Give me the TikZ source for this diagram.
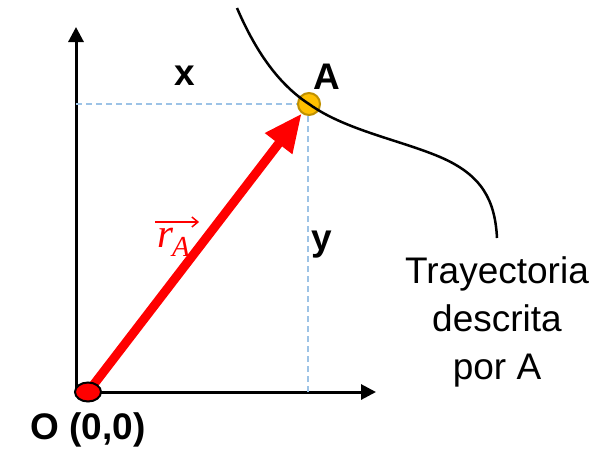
\documentclass[tikz,border=0pt]{standalone}
\usepackage{fontspec}
\setmainfont{Liberation Sans}
\newfontfamily\vecfont{Liberation Serif}
\usepackage{tikz}
\usetikzlibrary{arrows.meta,backgrounds,shapes.geometric}
\definecolor{vred}{HTML}{FF0000}
\definecolor{ptfill}{HTML}{FFC000}
\definecolor{ptdraw}{HTML}{BF9000}
\definecolor{guide}{HTML}{9DC3E6}
\tikzset{
  axis/.style  = {-{Triangle[length=15pt,width=15pt]}, line width=3pt, draw=black},
  vec/.style   = {-{Triangle[length=38pt,width=32pt]}, line width=9pt, draw=vred},
  proj/.style  = {draw=guide, line width=1.5pt, dash pattern=on 6pt off 4pt},
  traj/.style  = {draw=black, line width=2.5pt},
  pt/.style    = {circle, draw=ptdraw, line width=2pt, fill=ptfill,
                  minimum size=22pt, inner sep=0pt},
  orig/.style  = {ellipse, draw=black, line width=2pt, fill=vred,
                  minimum width=26pt, minimum height=19pt, inner sep=0pt},
  lbl/.style   = {font=\fontsize{37}{44}\selectfont\bfseries, inner sep=0pt},
  txt/.style   = {font=\fontsize{37}{48}\selectfont, align=center, inner sep=0pt},
  vname/.style = {text=vred, font=\vecfont\itshape\fontsize{41}{44}\selectfont, inner sep=0pt},
  vbar/.style  = {draw=vred, line width=1.5pt, -{Straight Barb[length=6pt,width=10pt]}},
}
\begin{document}
\begin{tikzpicture}[x=1pt,y=-1pt]
  \useasboundingbox (0,0) rectangle (604,455);
  % puntos
  \node[orig] (O) at (88,392) {};
  \node[pt] (A) at (309,104) {};
  \coordinate (c) at (76,392);
  \coordinate (ytop) at (76,27);
  \coordinate (xend) at (376,392);
  \coordinate (ax) at (76,104);
  \coordinate (ay) at (308,392);
  \begin{scope}[on background layer]
    \draw[axis] ([yshift=1.5pt]c) -- (ytop);
    \draw[axis] ([xshift=-1.5pt]c) -- (xend);
    \draw[proj] (ax) -- (A.center);
    \draw[proj] (ay) -- ([xshift=-1pt]A.center);
    \draw[vec] (O.center) -- (A);
  \end{scope}
  % trayectoria
  \draw[traj] (237,8) .. controls (255,50) and (278,84) .. (A.center)
    .. controls (345,130) and (400,140) .. (440,157)
    .. controls (482,175) and (495,200) .. (497,238);
  % etiquetas
  \node[lbl] (lx) at (185,76) {x};
  \node[lbl] (lA) at (327,77) {A};
  \node[lbl] (ly) at (322,245) {y};
  \node[lbl] (lO) at (88,430) {O (0,0)};
  \node[vname, anchor=base west] (lr) at (157,247)
    {r\kern-1pt\raisebox{-9pt}{\fontsize{29}{30}\selectfont A}};
  \draw[vbar] ([xshift=-2pt,yshift=25pt]lr.base west) -- ([xshift=9pt,yshift=25pt]lr.base east);
  \node[txt] (tr) at (497,322) {Trayectoria\\descrita\\por A};
\end{tikzpicture}
\end{document}
